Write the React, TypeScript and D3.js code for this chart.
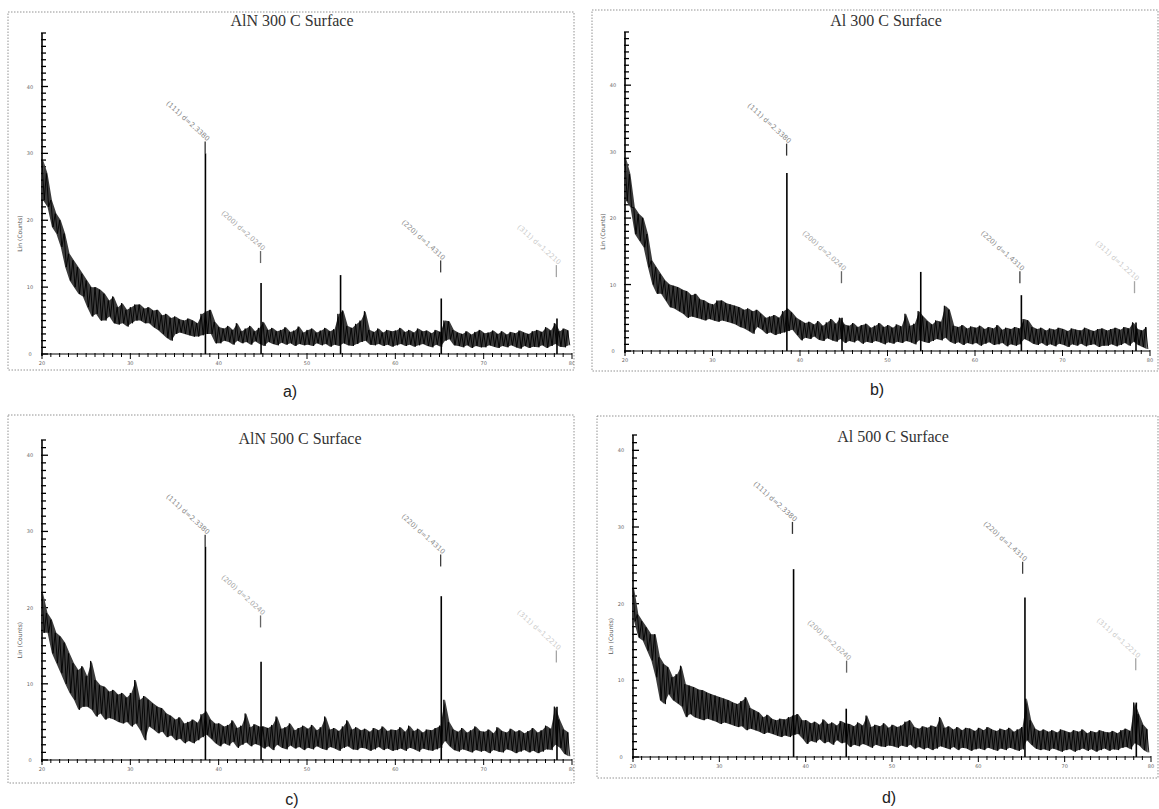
import * as d3 from 'd3'

// XRD scans, 2θ from 20° to 80°, envelope of the noisy trace read per 0.5° bin
const binStart = 20
const binWidth = 0.5

const aHi = [29, 27, 23, 21, 20, 18, 15, 14, 13, 12,
  11, 10, 10, 9.6, 9, 8, 8.6, 7, 7.6, 6.6,
  7, 7.4, 7.4, 6.8, 7, 6.5, 6.6, 5.8, 6, 5.4,
  5.6, 5.2, 5, 5.3, 5, 4.6, 6, 6.4, 6.6, 4.8,
  4, 3.8, 4.2, 3.6, 4.6, 3.4, 3.8, 4.2, 3.4, 3.9,
  4.8, 3.6, 3.9, 3.4, 3.6, 4, 3.3, 3.5, 4.1, 3.2,
  3.6, 3.8, 3.2, 3.5, 3.9, 3.4, 3.7, 6, 6.5, 4.2,
  3.9, 4.5, 5, 6.4, 3.6, 3.3, 3.8, 3.2, 3.6, 3.4,
  3.5, 3.9, 3.3, 3.6, 3.2, 3.8, 3.4, 3.5, 3.1, 3.6,
  3.3, 5, 4.9, 3.6, 3.2, 3, 3.4, 2.9, 3.3, 3.6,
  3.1, 3.2, 3.5, 3, 3.4, 2.9, 3.3, 3.1, 3.5, 3.2,
  3, 3.4, 3.6, 3.3, 4, 3.5, 4.6, 3.4, 3.8, 3.5]
const aLo = [23, 22, 19, 18, 16, 13, 11, 10, 9, 8.6,
  7, 5.6, 6, 5, 5, 5.6, 4.6, 4.4, 4.6, 4.1,
  4.6, 5, 5, 4.6, 4.6, 4, 3.6, 3, 2.4, 2,
  3, 3.2, 3, 2.8, 2.6, 2.6, 2.8, 3, 3, 1.6,
  1.6, 2, 1.8, 1.4, 2, 1.6, 1.8, 1.4, 1.9, 1.5,
  1.2, 1.8, 1.5, 1.3, 1.7, 1.4, 1.6, 1.2, 1.5, 1.3,
  1.4, 1.2, 1.6, 1.3, 1.5, 1.1, 1.4, 1.2, 1.6, 1.3,
  1.2, 1.5, 1.8, 2, 1.4, 1.3, 1.5, 1.2, 1.4, 1.1,
  1.3, 1.5, 1.2, 1.4, 1.1, 1.3, 1.5, 1.2, 1, 1.4,
  1.1, 2, 2.2, 1.3, 1.2, 1, 1.3, 0.9, 1.2, 1,
  1, 1.3, 1.1, 0.9, 1.2, 1, 1.3, 1, 0.8, 1.2,
  0.9, 1.1, 1, 1.3, 0.9, 1.2, 1.5, 1.1, 1, 1.3]
const aPeakPos = [38.5, 44.8, 53.8, 65.2, 78.3]
const aPeakH = [30, 10.6, 11.8, 8.3, 5.3]
const aMark = [30, 13.6, 12.2, 11.5]

const bHi = [29, 26.6, 21.6, 20.6, 20, 17.6, 13.6, 12.6, 11.6, 10.6,
  10, 9.8, 9.6, 9.2, 9, 8.4, 8.6, 7.8, 7.6, 7.2,
  7, 7.6, 7.6, 7.2, 7, 6.8, 6.6, 6.2, 6.4, 6,
  6.2, 5.6, 5, 5.2, 5.4, 5, 6, 6.4, 5.8, 5,
  4.6, 4.2, 4.4, 4, 4.5, 3.8, 4.3, 4.8, 4.1, 5,
  4, 3.8, 4.2, 3.6, 3.9, 4.1, 3.5, 3.8, 4.2, 3.6,
  3.9, 3.5, 4, 3.7, 5.6, 3.8, 4.1, 6, 5.2, 4.5,
  4, 4.6, 4.4, 6.8, 6.2, 3.8, 3.6, 3.9, 3.4, 3.7,
  3.5, 3.8, 3.3, 3.6, 3.4, 3.9, 3.2, 3.5, 3.3, 3.6,
  3.4, 4.8, 4.6, 3.6, 3.3, 3.5, 3.1, 3.4, 3.2, 3.5,
  3.3, 3, 3.4, 3.2, 3.1, 3.5, 3.2, 3, 3.3, 3.4,
  3.1, 3.3, 3.5, 3.2, 3.6, 3.4, 4.3, 3.3, 3.1, 3.6]
const bLo = [22.6, 21.6, 17.6, 16.6, 15.6, 12.6, 10, 8.6, 8.6, 7.6,
  6.6, 6.4, 6, 5.6, 5, 5.2, 5, 4.8, 4.6, 4.8,
  4.6, 4.4, 4.6, 4.4, 4.2, 4, 3.6, 3.4, 3, 2.6,
  3.6, 3.2, 2.6, 2.8, 2.4, 2.6, 2.8, 3, 3.2, 2.4,
  1.6, 2, 1.8, 2.2, 1.7, 1.5, 1.9, 1.6, 1.4, 1.8,
  1.2, 1.5, 1.3, 1.6, 1.1, 1.4, 1.2, 1.5, 1.3, 1,
  1.3, 1.1, 1.4, 1.2, 1.5, 1.3, 1, 1.6, 1.4, 1.2,
  1.5, 1.8, 1.6, 2, 1.4, 1.1, 1.3, 0.9, 1.2, 1,
  1.2, 0.8, 1.1, 1.3, 0.9, 1, 1.2, 0.7, 1, 0.8,
  1, 1.8, 1.5, 1.1, 0.9, 1.2, 0.8, 1, 0.7, 1.1,
  0.9, 0.6, 1, 0.8, 1.1, 0.7, 0.9, 1, 0.6, 0.8,
  0.8, 1, 0.7, 0.9, 1.2, 0.8, 1.4, 0.9, 0.6, 0.3]
const bPeakPos = [38.5, 44.8, 53.8, 65.3, 78.4]
const bPeakH = [26.8, 5, 11.9, 8.4, 4.3]
const bMark = [29.4, 10.2, 10.2, 8.7]

const cHi = [21.9, 19.3, 18.4, 16.7, 16.2, 15.4, 14, 12.7, 11.8, 12.3,
  11, 13, 10.5, 9.8, 9.6, 9, 9.2, 8.6, 8.8, 8.2,
  8.8, 10.5, 7.9, 8.4, 7.9, 7.4, 7, 6.8, 6.1, 5.8,
  5.3, 5.6, 4.8, 5, 5.3, 4.9, 6, 6.4, 5.3, 4.8,
  4.8, 4.4, 4.6, 5.2, 4.2, 4.5, 6.1, 4.3, 4.7, 4.4,
  4.4, 4.2, 4.6, 5.7, 4.1, 4.3, 4.8, 3.9, 4.2, 4.5,
  4.1, 4.6, 3.9, 4.3, 5.7, 4, 4.2, 3.8, 4.4, 5.2,
  4, 4.3, 3.9, 4.1, 3.7, 4.2, 3.9, 4.4, 3.8, 4,
  3.9, 4.3, 3.7, 4.5, 3.8, 4.1, 3.6, 4, 3.9, 4.2,
  4.5, 7.9, 5, 4, 3.7, 4.2, 3.6, 3.9, 4.4, 3.8,
  3.7, 4, 3.5, 4.3, 3.8, 3.6, 4.1, 3.7, 3.9, 3.5,
  3.8, 4.2, 3.6, 3.9, 4.5, 4.1, 7, 5.3, 4, 3.6]
const cLo = [16.7, 16.7, 14, 12.7, 11.4, 10, 8.8, 7.9, 6.6, 7,
  7, 6.6, 5.7, 6.1, 5.3, 5.5, 5.3, 5, 4.8, 5,
  4.4, 4.8, 3.9, 2.6, 4.4, 4, 3.5, 3.7, 3, 3.2,
  2.6, 2.8, 2.2, 2.5, 2.2, 2.6, 3, 3.3, 2.8, 2.2,
  1.8, 2.2, 1.9, 2.4, 1.6, 2, 2.3, 1.8, 2.1, 1.9,
  1.5, 1.8, 1.3, 2, 1.6, 1.4, 1.9, 1.5, 1.7, 1.3,
  1.6, 1.4, 1.8, 1.5, 1.3, 1.7, 1.5, 1.2, 1.6, 1.8,
  1.4, 1.3, 1.6, 1.5, 1.2, 1.4, 1.7, 1.3, 1.5, 1.2,
  1.3, 1.5, 1.2, 1.6, 1.4, 1.1, 1.5, 1.3, 1.2, 1.4,
  1.6, 2.5, 1.8, 1.3, 1.1, 1.4, 1.2, 1, 1.3, 1.1,
  1.2, 0.9, 1.3, 1.1, 1, 1.4, 1.2, 0.9, 1.1, 1.3,
  1, 1.2, 0.9, 1.1, 1.4, 1.3, 2, 1.6, 0.8, 0.5]
const cPeakPos = [38.5, 44.8, 65.2, 78.3]
const cPeakH = [28, 12.9, 21.5, 7]
const cMark = [28, 17.4, 25.4, 12.8]

const dHi = [22, 18.6, 17.7, 16.9, 16, 16, 13, 12.1, 11.7, 10.4,
  10.8, 11.9, 9.5, 9.3, 9.1, 8.8, 8.7, 8.4, 8.2, 8,
  7.8, 7.6, 7.4, 7.1, 6.9, 7.3, 7.8, 6.4, 6.1, 5.8,
  5.2, 5.5, 5, 4.8, 5, 4.9, 5.2, 5.4, 5.6, 4.8,
  4.8, 4.4, 4.6, 4.2, 4.9, 4.3, 4.5, 4.1, 4.7, 4.4,
  4.3, 4, 4.5, 4.1, 5.4, 3.9, 4.2, 4, 4.4, 3.8,
  4.2, 3.9, 4.1, 4.6, 4.8, 3.9, 3.7, 4, 3.8, 4.1,
  3.9, 5.2, 3.8, 4, 3.6, 3.9, 3.5, 3.8, 3.7, 3.4,
  3.8, 3.5, 3.9, 3.6, 3.4, 3.7, 3.5, 3.8, 3.3, 3.6,
  3.9, 7.6, 4.8, 3.7, 3.4, 3.6, 3.3, 3.5, 3.2, 3.6,
  3.4, 3.2, 3.5, 3.3, 3.6, 3.1, 3.4, 3.2, 3.5, 3.3,
  3.2, 3.4, 3.1, 3.5, 3.7, 3.4, 7.1, 5.6, 4.2, 3.6]
const dLo = [17.7, 15.6, 15.2, 13.9, 12.6, 10.4, 7.4, 6.9, 8.2, 7.4,
  7, 6.6, 5.2, 5.6, 5.2, 5, 4.8, 5, 4.8, 4.6,
  4.3, 4.5, 4.3, 4.1, 3.9, 4, 3.5, 3.7, 3.5, 3.3,
  3, 3.2, 3, 2.8, 2.6, 2.8, 2.6, 2.9, 3, 2.4,
  1.7, 2.1, 1.9, 2.3, 1.8, 2, 1.6, 2.2, 1.8, 1.9,
  1.3, 1.6, 1.4, 1.7, 1.5, 1.2, 1.6, 1.4, 1.3, 1.5,
  1.4, 1.2, 1.5, 1.3, 1.6, 1.1, 1.3, 1, 1.2, 0.9,
  1.1, 1.4, 1.2, 1, 1.3, 0.9, 1.2, 1.1, 0.8, 1,
  1.1, 0.9, 1.2, 1, 0.8, 1.1, 0.9, 1.2, 1, 0.8,
  1, 2.2, 1.6, 1.1, 0.9, 1, 0.8, 1.1, 0.9, 0.7,
  0.9, 1, 0.7, 0.9, 1.1, 0.8, 1, 0.7, 0.9, 1.1,
  0.8, 1, 0.9, 1.2, 1.3, 1, 1.8, 1.5, 0.9, 0.6]
const dPeakPos = [38.6, 44.7, 65.4, 78.3]
const dPeakH = [24.5, 6.3, 20.8, 7.1]
const dMark = [29.1, 11, 23.9, 11.3]

// reference lines (Al) and their labels
const refPos = [38.47, 44.74, 65.13, 78.23]
const refLabels = ['(111) d=2.3380', '(200) d=2.0240', '(220) d=1.4310', '(311) d=1.2210']
const yTickValues = [0, 10, 20, 30, 40]
const xTickValues = [20, 30, 40, 50, 60, 70, 80]

const refOpacity = [0.8, 0.6, 0.75, 0.35]

const panels = [
  { title: 'AlN 300 C Surface', tag: 'a)', hi: aHi, lo: aLo, peakPos: aPeakPos, peakH: aPeakH, mark: aMark,
    frame: [8, 12, 566, 358], x0: 42, x1: 572, base: 354, top: 33, yMax: 48, titleX: 292, titleY: 26, tagX: 290, tagY: 397 },
  { title: 'Al 300 C Surface', tag: 'b)', hi: bHi, lo: bLo, peakPos: bPeakPos, peakH: bPeakH, mark: bMark,
    frame: [592, 10, 566, 361], x0: 625, x1: 1150, base: 351, top: 32, yMax: 48, titleX: 886, titleY: 26, tagX: 877, tagY: 395 },
  { title: 'AlN 500 C Surface', tag: 'c)', hi: cHi, lo: cLo, peakPos: cPeakPos, peakH: cPeakH, mark: cMark,
    frame: [8, 415, 566, 368], x0: 42, x1: 572, base: 760, top: 440, yMax: 42, titleX: 300, titleY: 444, tagX: 292, tagY: 805 },
  { title: 'Al 500 C Surface', tag: 'd)', hi: dHi, lo: dLo, peakPos: dPeakPos, peakH: dPeakH, mark: dMark,
    frame: [597, 416, 561, 362], x0: 633, x1: 1151, base: 757, top: 435, yMax: 42, titleX: 893, titleY: 442, tagX: 889, tagY: 803 },
]

function XrdPanel({ p, idx }) {
  const x = d3.scaleLinear().domain([20, 80]).range([p.x0, p.x1])
  const y = d3.scaleLinear().domain([0, p.yMax]).range([p.base, p.top])
  const [fx, fy, fw, fh] = p.frame

  const pts = []
  p.hi.forEach((h, i) => {
    const t = binStart + i * binWidth
    pts.push([x(t), y(h)])
    pts.push([x(t + binWidth / 2), y(p.lo[i])])
  })
  const trace = d3.line()(pts)

  // noise band between the envelopes
  const band = d3.area()
    .x((_, i) => x(binStart + i * binWidth + binWidth / 4))
    .y0((_, i) => y(p.lo[i]))
    .y1(h => y(h))(p.hi)

  const minorY = d3.range(0, p.yMax + 0.01, 1)
  const minorX = d3.range(20, 80.01, 1)
  const clipId = 'clip' + idx

  return (
    <g>
      <defs>
        <clipPath id={clipId}>
          <rect x={fx} y={fy} width={fw} height={fh} />
        </clipPath>
      </defs>
      <rect x={fx} y={fy} width={fw} height={fh} fill="none" stroke="#777" strokeWidth={0.8} strokeDasharray="1.5,1.5" />
      <text x={p.titleX} y={p.titleY} textAnchor="middle" fontFamily="Liberation Serif, serif" fontSize={16} fill="#333">{p.title}</text>
      <text x={p.tagX} y={p.tagY} textAnchor="middle" fontFamily="Liberation Sans, sans-serif" fontSize={16} fill="#222">{p.tag}</text>

      <g clipPath={`url(#${clipId})`}>
        {/* y axis */}
        <line x1={p.x0} x2={p.x0} y1={p.top} y2={p.base + 2} stroke="#000" strokeWidth={1.6} />
        {minorY.map(v => (
          <line key={'my' + v} x1={p.x0 - 1} x2={p.x0 + (v % 10 === 0 ? 6 : 4)} y1={y(v)} y2={y(v)} stroke="#000" strokeWidth={1.3} />
        ))}
        {yTickValues.filter(v => v <= p.yMax).map(v => (
          <text key={'ty' + v} x={p.x0 - 12} y={y(v) + 2} textAnchor="middle" fontFamily="DejaVu Sans, sans-serif" fontSize={5} fill="#666">{v}</text>
        ))}
        <text transform={`translate(${p.x0 - 20},${(p.base + p.top) / 2 + 40}) rotate(-90)`} textAnchor="middle"
          fontFamily="DejaVu Sans, sans-serif" fontSize={6} fill="#555">Lin (Counts)</text>

        {/* x axis */}
        <line x1={p.x0} x2={x(80)} y1={p.base} y2={p.base} stroke="#000" strokeWidth={1.2} />
        {minorX.map(v => (
          <line key={'mx' + v} x1={x(v)} x2={x(v)} y1={p.base - 1} y2={p.base + (v % 10 === 0 ? 5 : 3)} stroke="#000" strokeWidth={1} />
        ))}
        {xTickValues.map(v => (
          <text key={'tx' + v} x={x(v)} y={p.base + 11} textAnchor="middle" fontFamily="DejaVu Sans, sans-serif" fontSize={5} fill="#666">{v}</text>
        ))}

        {/* scan */}
        <path d={band} fill="#3c3c3c" stroke="none" />
        <path d={trace} fill="none" stroke="#000" strokeWidth={0.9} />
        {p.peakPos.map((t, i) => (
          <line key={'pk' + i} x1={x(t)} x2={x(t)} y1={y(0)} y2={y(p.peakH[i])} stroke="#000" strokeWidth={1.6} />
        ))}

        {/* phase reference labels */}
        {refPos.map((t, i) => {
          const px = x(t)
          const py = y(p.mark[i])
          return (
            <g key={'ref' + i} opacity={refOpacity[i]}>
              <line x1={px} x2={px} y1={py - 12} y2={py} stroke="#000" strokeWidth={1.3} />
              <text transform={`translate(${px + 2},${py - 12}) rotate(42)`} textAnchor="end" fontFamily="DejaVu Sans, sans-serif"
                fontSize={7} fill="#666">{refLabels[i]}</text>
            </g>
          )
        })}
      </g>
    </g>
  )
}

export default function App() {
  return (
    <svg width={1159} height={809} style={{ position: 'absolute', left: 0, top: 0, background: '#fff' }}>
      <rect width={1159} height={809} fill="#fff" />
      {panels.map((p, i) => <XrdPanel key={i} p={p} idx={i} />)}
    </svg>
  )
}
